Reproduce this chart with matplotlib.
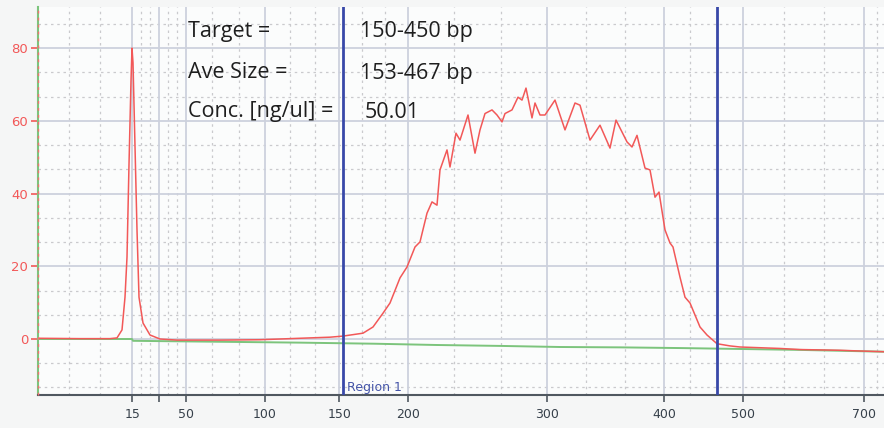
import numpy as np
import matplotlib.pyplot as plt

# ladder: fragment size (bp) vs migration time (s)
ladder_bp = [15, 25, 50, 100, 150, 200, 300, 400, 500, 700]
ladder_t = [33.23, 35.93, 38.57, 46.5, 53.93, 60.83, 74.67, 86.4, 94.33, 106.4]
ladder_labels = ['15', '', '50', '100', '150', '200', '300', '400', '500', '700']

# sample trace (time, FU)
trace_t = [23.8, 28.0, 31.0, 31.7, 32.2, 32.5, 32.7, 32.9, 33.1, 33.2, 33.3, 33.5, 33.7, 33.9,
           34.3, 35.0, 36.0, 37.7, 42.0, 46.0, 50.0, 53.0, 54.3, 56.3, 57.3, 58.3, 59.0, 60.0,
           60.7, 61.5, 62.0, 62.7, 63.2, 63.7, 64.0, 64.7, 65.0, 65.6, 66.0, 66.8, 67.5, 68.0,
           68.5, 69.2, 69.7, 70.2, 70.5, 71.2, 71.8, 72.2, 72.6, 73.2, 73.5, 74.0, 74.5, 75.5,
           76.5, 77.5, 78.0, 79.0, 80.0, 81.0, 81.6, 82.7, 83.2, 83.7, 84.5, 85.0, 85.5, 85.9,
           86.5, 87.0, 87.3, 88.0, 88.5, 89.0, 90.0, 90.7, 91.7, 93.0, 94.0, 96.0, 98.0, 100.0,
           102.0, 104.0, 106.0, 108.4]
trace_fu = [0.2, 0.1, 0.1, 0.3, 2.5, 11.5, 22.5, 48, 71, 80, 76, 53, 30, 11.5,
            4.4, 1.1, 0.0, -0.3, -0.3, -0.2, 0.2, 0.5, 0.8, 1.6, 3.3, 7.1, 9.9, 16.8,
            19.8, 25.3, 26.7, 34.6, 37.7, 36.8, 46.5, 52, 47.3, 56.6, 54.7, 61.6, 51.1, 57.5,
            62, 63, 61.6, 59.7, 62, 63, 66.5, 65.7, 69, 60.8, 64.9, 61.6, 61.6, 65.7,
            57.5, 64.9, 64.3, 54.7, 58.8, 52.5, 60.2, 54.2, 52.8, 56, 47, 46.5, 39, 40.4,
            30, 26.4, 25.3, 17, 11.5, 9.9, 3.3, 1.1, -1.3, -1.9, -2.2, -2.4, -2.6, -2.9,
            -3.0, -3.1, -3.3, -3.5]

# baseline
base_t = [23.8, 33.2, 33.3, 50.0, 57.5, 63.7, 70.0, 76.0, 82.0, 88.3, 100.0, 108.4]
base_fu = [0.0, 0.0, -0.5, -1.0, -1.3, -1.65, -1.9, -2.2, -2.3, -2.5, -3.0, -3.5]

region_bp = [153, 467]

fig = plt.figure(figsize=(8.84, 4.28), dpi=100, facecolor='#f5f6f6')
ax = fig.add_axes([38/884, 33/428, 846/884, 388/428])
ax.set_facecolor('#fbfcfc')
ax.set_xlim(23.8, 108.4)
ax.set_ylim(-15.4, 91.3)

# grid: solid at ladder / every 20, dotted thirds in between
minor_x = [26.9, 30.0, 107.7]
for a, b in zip(ladder_t[:-1], ladder_t[1:]):
    minor_x += [a + (b - a) / 3, a + 2 * (b - a) / 3]
for x in minor_x:
    ax.axvline(x, color='#cacacd', lw=0.9, ls=(0, (2, 3)), zorder=0)
for y in np.arange(-40, 100, 20 / 3):
    if abs(y / 20 - round(y / 20)) > 0.01:
        ax.axhline(y, color='#cacacd', lw=0.9, ls=(0, (2, 3)), zorder=0)
for x in ladder_t:
    ax.axvline(x, color='#cdd1dd', lw=1.3, zorder=0)
for y in range(-20, 100, 20):
    ax.axhline(y, color='#cdd1dd', lw=1.3, zorder=0)

ax.plot(base_t, base_fu, color='#7cc47c', lw=1.4, zorder=2)
ax.plot(trace_t, trace_fu, color='#f25858', lw=1.1, zorder=3)

# region lines
for bp in region_bp:
    ax.axvline(np.interp(bp, ladder_bp, ladder_t), color='#3848a8', lw=2, zorder=4)
ax.text(np.interp(region_bp[0], ladder_bp, ladder_t) + 0.35, -15.0, 'Region 1',
        color='#4454a8', fontsize=9, va='bottom', ha='left', zorder=5)

ax.set_xticks(ladder_t)
ax.set_xticklabels(ladder_labels)
ax.set_yticks([0, 20, 40, 60, 80])
ax.tick_params(axis='x', length=5, width=1.2, color='#505860', labelcolor='#36404a',
               labelsize=9, pad=4)
ax.tick_params(axis='y', length=5, width=1.2, color='#f25858', labelcolor='#f25858',
               labelsize=9.5, pad=2)

for s in ['top', 'right']:
    ax.spines[s].set_visible(False)
ax.spines['left'].set_color('#7cc47c')
ax.spines['left'].set_linewidth(1.5)
ax.spines['bottom'].set_color('#505860')
ax.spines['bottom'].set_linewidth(1.5)
ax.axvline(23.8, color='#f27070', lw=1, ls=(0, (2, 3)), zorder=6, clip_on=False)

# annotation text
font = dict(family=['Open Sans', 'DejaVu Sans'], fontsize=15.5, color='#1e1e1e', va='center')
fig.text(188/884, 1 - 32/428, 'Target =', **font)
fig.text(360/884, 1 - 32/428, '150-450 bp', **font)
fig.text(188/884, 1 - 73/428, 'Ave Size =', **font)
fig.text(360/884, 1 - 73/428, '153-467 bp', **font)
fig.text(188/884, 1 - 112/428, 'Conc. [ng/ul] =', **font)
fig.text(365/884, 1 - 112/428, '50.01', **font)

fig.savefig('out.png', dpi=100, facecolor=fig.get_facecolor())
